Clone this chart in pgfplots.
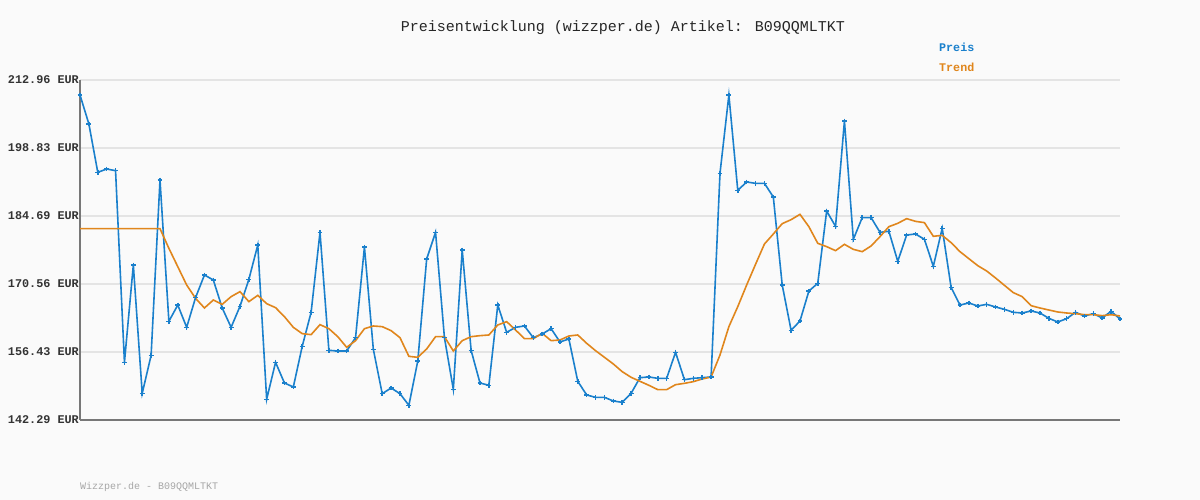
\documentclass[border=0pt]{standalone}
\usepackage{pgfplots}
\usepackage{pgfplotstable}
\pgfplotsset{compat=1.18}
\usepackage{fontspec}
\setmainfont{Liberation Mono}
\definecolor{bg}{HTML}{FAFAFA}
\definecolor{preis}{HTML}{1A80CC}
\definecolor{trend}{HTML}{E0861C}
\definecolor{gridc}{HTML}{E4E4E4}
\definecolor{axisc}{HTML}{777777}

\pgfplotstableread{
y
209.84
203.81
193.77
194.46
194.11
154.28
174.51
147.83
155.73
192.17
162.80
166.19
161.55
167.72
172.43
171.39
165.57
161.55
165.92
171.53
178.66
146.59
154.28
149.98
149.15
157.60
164.67
181.30
156.77
156.63
156.63
159.40
178.25
156.98
147.76
148.94
147.76
145.34
154.55
175.75
181.30
159.40
148.66
177.63
156.77
149.98
149.50
166.19
160.51
161.55
161.83
159.40
160.17
161.27
158.50
159.13
150.33
147.49
147.00
147.00
146.24
145.96
147.83
151.09
151.23
150.95
150.95
156.36
150.67
150.95
151.09
151.23
193.56
209.84
190.03
191.76
191.48
191.48
188.64
170.35
160.93
162.87
169.10
170.70
185.73
182.54
204.44
179.84
184.35
184.35
181.30
181.51
175.27
180.74
180.95
179.84
174.23
182.13
169.87
166.19
166.61
165.98
166.33
165.78
165.29
164.67
164.53
164.95
164.53
163.42
162.66
163.35
164.67
163.91
164.39
163.49
164.88
163.28
}\preisdata

\pgfplotstableread{
y
182.06
182.06
182.06
182.06
182.06
182.06
182.06
182.06
182.06
182.06
177.97
174.16
170.35
167.58
165.57
167.23
166.33
167.93
168.97
166.89
168.20
166.47
165.64
163.77
161.55
160.24
160.03
162.11
161.27
159.61
157.39
158.78
161.27
161.83
161.69
160.86
159.40
155.52
155.32
157.05
159.61
159.61
156.63
158.78
159.61
159.82
159.96
162.04
162.73
161.00
159.20
159.20
160.30
158.78
158.92
159.75
159.96
158.23
156.70
155.32
153.93
152.34
151.16
150.33
149.50
148.60
148.60
149.63
149.91
150.26
150.81
151.23
155.80
161.69
165.85
170.35
174.65
178.87
180.95
183.10
183.93
185.04
182.47
179.01
178.32
177.49
178.80
177.76
177.28
178.46
180.40
182.47
183.17
184.14
183.58
183.31
180.47
180.67
179.15
177.28
175.82
174.37
173.26
171.81
170.28
168.76
167.93
166.05
165.57
165.15
164.74
164.53
164.39
164.18
164.18
163.98
164.18
163.91
}\trenddata

\begin{document}
\begin{tikzpicture}[x=1pt,y=1pt]
\fill[bg] (0,0) rectangle (1200,500);
\path[use as bounding box] (0,0) rectangle (1200,500);
\begin{axis}[
  at={(80pt,80pt)}, anchor=south west,
  scale only axis, width=1040pt, height=340pt,
  xmin=0, xmax=117, ymin=142.29, ymax=212.96,
  axis x line*=bottom, axis y line*=left,
  xtick=\empty,
  ytick={142.29,156.43,170.56,184.69,198.83,212.96},
  yticklabels={142.29 EUR,156.43 EUR,170.56 EUR,184.69 EUR,198.83 EUR,212.96 EUR},
  ymajorgrids,
  grid style={gridc, line width=2pt},
  major tick length=0pt,
  y axis line style={axisc, line width=2pt},
  x axis line style={axisc, line width=2.5pt},
  yticklabel style={font=\fontsize{11.8}{12}\selectfont\bfseries, text=black!80, inner sep=0pt, xshift=-1pt},
  clip=false,
]
\addplot[preis, line width=1.6pt, mark=+, mark size=2.4pt, mark options={line width=1.5pt}] table[x expr=\coordindex, y=y] {\preisdata};
\addplot[trend, line width=1.6pt] table[x expr=\coordindex, y=y] {\trenddata};
\end{axis}
\node[font=\fontsize{15}{17}\selectfont, text=black!85] at (623,472) {Preisentwicklung (wizzper.de) Artikel: B09QQMLTKT};
\node[font=\fontsize{11.7}{12}\selectfont\bfseries, text=preis, anchor=west, inner sep=0pt] at (939,453) {Preis};
\node[font=\fontsize{11.7}{12}\selectfont\bfseries, text=trend, anchor=west, inner sep=0pt] at (939,433) {Trend};
\node[font=\fontsize{10}{11}\selectfont, text=black!35, anchor=west, inner sep=0pt] at (80,13) {Wizzper.de - B09QQMLTKT};
\end{tikzpicture}
\end{document}
